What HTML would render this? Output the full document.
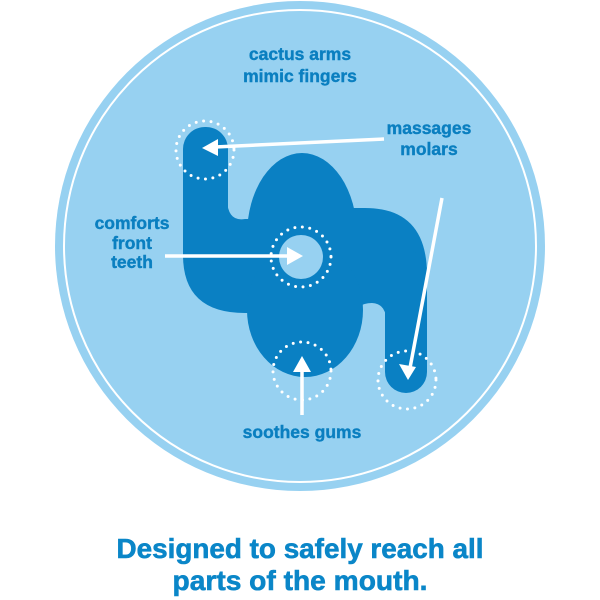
<!DOCTYPE html>
<html><head><style>html,body{margin:0;padding:0;background:#fff}svg{display:block}</style></head>
<body>
<svg width="600" height="600" viewBox="0 0 600 600" xmlns="http://www.w3.org/2000/svg" font-family="Liberation Sans, sans-serif" font-weight="bold">
<circle cx="300" cy="246" r="245" fill="#97d1f1"/>
<circle cx="300" cy="246" r="236" fill="none" stroke="#fff" stroke-width="2"/>
<g fill="#0a80c3">
<rect x="183" y="127" width="45" height="150" rx="22"/>
<ellipse cx="302" cy="235" rx="55" ry="82"/>
<path d="M183 220 V255 Q183 313 245 313 H300 V220 Z"/>
<path d="M227 200 Q228 222 245 219 L252 219 L252 240 L227 240 Z"/>
<path d="M300 208 H365 Q427 208 427 275 V330 H300 Z"/>
</g>
<path d="M350 360 V318 Q356 303 372 303 Q386 304 386 320 V360 Z" fill="#97d1f1"/>
<g fill="#0a80c3">
<ellipse cx="305" cy="310" rx="58" ry="67"/>
<rect x="385" y="250" width="42" height="143" rx="21"/>
</g>
<circle cx="301" cy="257" r="22" fill="#97d1f1"/>
<g fill="none" stroke="#fff" stroke-width="3" stroke-linecap="round" stroke-dasharray="0 7.5">
<circle cx="301" cy="257" r="30"/>
<circle cx="205" cy="150" r="29"/>
<circle cx="302" cy="371" r="29"/>
<circle cx="407" cy="380" r="29"/>
</g>
<g stroke="#fff" stroke-width="3.5" fill="#fff">
<line x1="384" y1="139" x2="215" y2="147"/>
<polygon points="202,148 218,139 218,156" stroke="none"/>
<line x1="165" y1="256" x2="290" y2="256"/>
<polygon points="303,256 287,247 287,265" stroke="none"/>
<line x1="302" y1="415" x2="302" y2="370"/>
<polygon points="302,356 293,372 311,372" stroke="none"/>
<line x1="442" y1="198" x2="410" y2="368"/>
<polygon points="408,380 399,364 416,367" stroke="none"/>
</g>
<g fill="#0a7fc0" font-size="17.5" text-anchor="middle" stroke="#0a7fc0" stroke-width="0.4">
<text x="300" y="60">cactus arms</text>
<text x="300" y="82">mimic fingers</text>
<text x="429" y="134">massages</text>
<text x="429" y="155">molars</text>
<text x="132" y="229">comforts</text>
<text x="132" y="249">front</text>
<text x="132" y="268">teeth</text>
<text x="302" y="438">soothes gums</text>
</g>
<g fill="#0a86c8" font-size="28" text-anchor="middle" stroke="#0a86c8" stroke-width="0.6">
<text x="300" y="558" textLength="367" lengthAdjust="spacingAndGlyphs">Designed to safely reach all</text>
<text x="300" y="590" textLength="255" lengthAdjust="spacingAndGlyphs">parts of the mouth.</text>
</g>
</svg>
</body></html>
